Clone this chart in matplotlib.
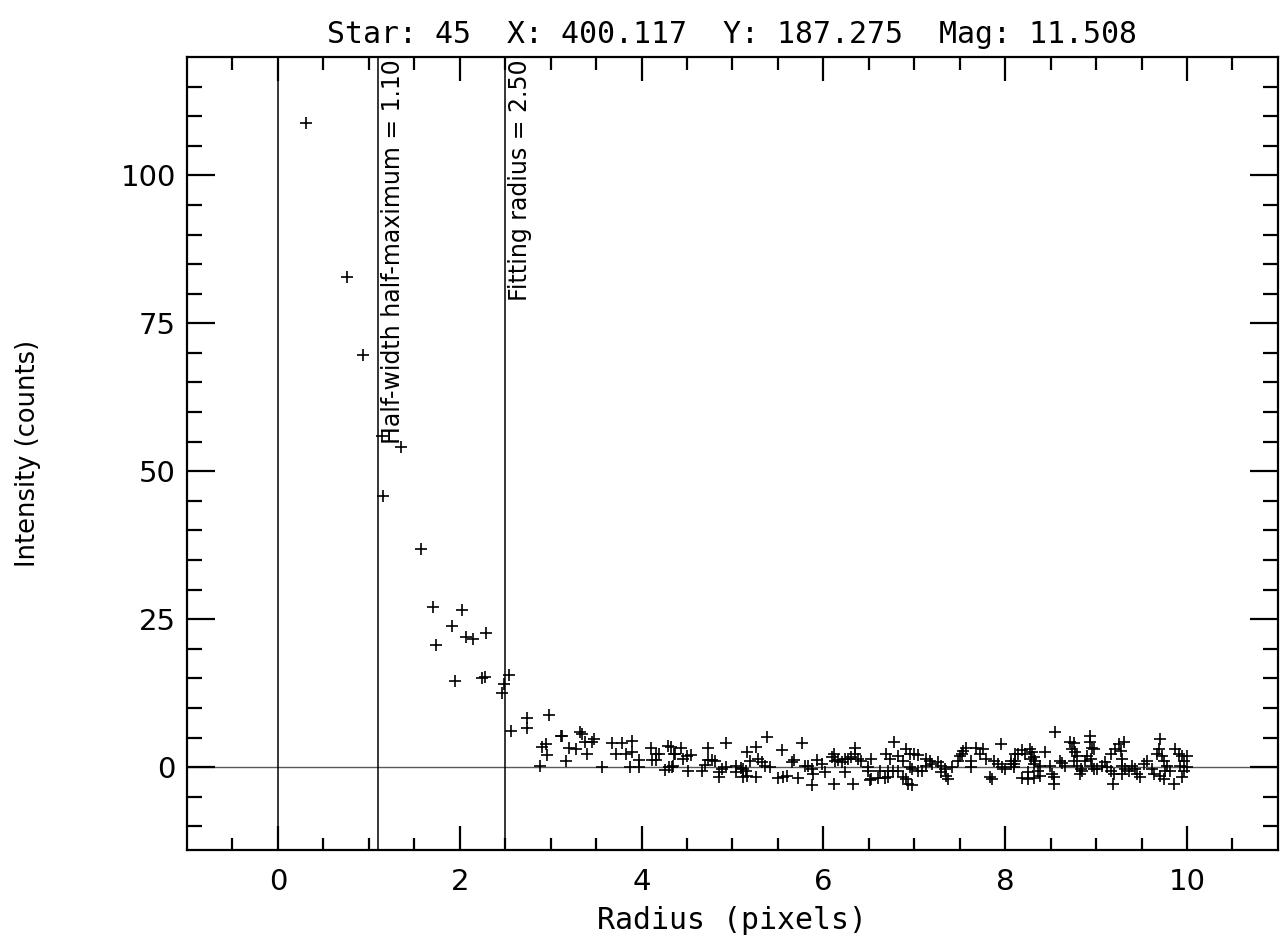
import numpy as np
import matplotlib
matplotlib.use("Agg")
import matplotlib.pyplot as plt

# star info
star_id = 45
star_x = 400.117
star_y = 187.275
star_mag = 11.508
hwhm = 1.10
fit_radius = 2.50

# radial profile: radius (pixels), intensity (counts)
r_core = [0.31, 0.76, 0.94, 1.15, 1.35, 1.16, 1.57, 1.71, 2.03, 1.92, 1.74,
          2.07, 2.15, 2.29, 1.95, 2.25, 2.28, 2.54, 2.49, 2.46]
i_core = [108.8, 82.8, 69.6, 56.0, 54.1, 45.9, 36.8, 27.0, 26.5, 23.8, 20.7,
          22.0, 21.6, 22.6, 14.5, 15.0, 15.3, 15.5, 14.0, 12.6]

r_wing = [2.56, 2.74, 2.74, 2.98, 2.88, 2.91, 2.95, 2.96, 3.11, 3.13, 3.17,
          3.20, 3.28, 3.32, 3.35, 3.38, 3.40, 3.48, 3.46, 3.57, 3.68, 3.79,
          3.72, 3.83, 3.90, 3.90, 3.97, 3.87, 3.97, 4.10, 4.16, 4.19, 4.16,
          4.11, 4.29, 4.36, 4.26, 4.30, 4.33,
          4.32, 4.43, 4.37, 4.35, 4.50, 4.54, 4.46, 4.51, 4.73, 4.73, 4.77,
          4.81, 4.70, 4.66, 4.85, 4.85, 4.93, 4.93, 4.88, 5.04, 5.09, 5.12,
          5.15, 5.12, 5.16, 5.04, 5.16, 5.19, 5.26, 5.28, 5.32, 5.26, 5.38,
          5.36, 5.41, 5.55, 5.50, 5.56, 5.60, 5.68, 5.66, 5.72, 5.77, 5.80,
          5.83, 5.87, 5.88, 5.89, 5.93, 5.98, 6.02, 6.09, 6.12, 6.13, 6.16,
          6.20, 6.12, 6.24,
          6.24, 6.35, 6.35, 6.30, 6.27, 6.38, 6.41, 6.33, 6.49, 6.49, 6.52,
          6.52, 6.51, 6.60, 6.68, 6.71, 6.62, 6.71, 6.77, 6.82, 6.69, 6.73,
          6.78, 6.82, 6.88, 6.88, 6.91, 6.93, 6.98, 6.91, 6.95, 7.00, 7.04,
          6.95, 6.98, 7.04, 7.09, 7.13, 7.17, 7.20, 7.13, 7.26, 7.29, 7.34,
          7.29, 7.37, 7.35, 7.42, 7.48, 7.50, 7.52, 7.54, 7.57, 7.62, 7.62,
          7.68, 7.72, 7.76, 7.79, 7.83, 7.86, 7.88, 7.95, 7.92, 7.97, 8.00,
          8.06, 8.10, 8.11,
          8.06, 8.10, 8.11, 8.14, 8.19, 8.22, 8.27, 8.29, 8.28, 8.32, 8.33,
          8.32, 8.38, 8.36, 8.25, 8.19, 8.25, 8.32, 8.38, 8.44, 8.49, 8.52,
          8.54, 8.54, 8.55, 8.60, 8.63, 8.66, 8.71, 8.76, 8.74, 8.77, 8.79,
          8.76, 8.79, 8.83, 8.85, 8.82, 8.88, 8.93, 8.93, 8.96, 8.98, 8.90,
          8.94, 8.96, 8.98, 9.01, 9.07, 9.10, 9.12, 9.16, 9.20, 9.19, 9.16,
          9.21, 9.25, 9.31, 9.27, 9.29, 9.29, 9.32, 9.29, 9.36, 9.40, 9.43,
          9.45, 9.48, 9.53, 9.56, 9.62, 9.64, 9.70, 9.69, 9.67, 9.73, 9.75,
          9.78, 9.76, 9.70, 9.75, 9.81, 9.86, 9.87, 9.91, 9.95, 9.97, 9.92,
          9.97, 10.00, 10.00, 9.95]
i_wing = [6.1, 8.3, 6.7, 8.8, 0.2, 3.4, 3.9, 2.0, 5.2, 5.2, 1.0,
          3.2, 3.0, 5.9, 5.6, 4.2, 2.2, 4.7, 4.2, 0.1, 4.0, 4.0,
          2.2, 2.2, 2.5, 4.4, 1.2, 0.1, 0.1, 3.2, 2.2, 2.2, 1.2,
          1.2, 3.5, 2.2, -0.4, 0.1, 0.1,
          3.4, 3.2, 2.2, 0.2, 1.9, 2.0, 1.3, -0.7, 3.2, 1.2, 1.2,
          1.0, 0.4, -0.7, -0.9, -1.7, 4.0, 0.0, -0.3, 0.2, -0.2, -0.3,
          -0.7, -1.7, -1.5, -0.8, 2.5, 1.0, 3.4, 1.3, 0.8, -1.7, 5.1,
          0.2, 0.0, 2.9, -1.9, -1.7, -1.5, 1.2, 0.8, -1.9, 4.0, 0.2,
          0.2, -0.3, -3.0, -1.2, 1.2, 0.5, -0.8, 1.7, 2.2, 1.0, 1.2,
          0.8, -2.9, 1.3,
          -0.8, 3.2, 2.2, 1.7, 1.3, 1.3, 1.0, -2.9, 0.0, -0.7, 1.3,
          -2.0, -2.2, -1.9, -1.9, -1.7, -0.7, -0.7, -0.7, -0.7, 2.2, 1.3,
          4.2, 1.9, 1.0, -1.7, -2.0, -2.9, -3.0, 3.0, 2.2, 2.2, 2.0,
          0.0, -0.3, -0.7, -0.7, 1.3, 1.0, 0.5, 0.2, 0.8, 0.2, -0.3,
          -0.8, -2.0, -1.5, 0.0, 1.0, 1.9, 2.2, 2.7, 3.2, 1.0, 0.0,
          3.2, 2.2, 3.0, 1.3, -1.7, -2.0, 1.0, 3.9, 0.5, 0.0, -0.3,
          1.0, 0.5, 2.2,
          0.5, 0.0, 1.0, 2.2, 2.9, 2.2, 3.0, 2.5, 1.3, 1.7, 1.0,
          0.5, 0.2, -0.7, -0.8, -1.9, -2.0, -1.9, -1.5, 2.5, 0.2, -1.2,
          -1.7, -2.9, 5.9, 1.0, 0.7, 0.2, 4.2, 4.0, 3.0, 2.5, 1.9,
          1.0, 0.2, -0.3, -0.7, -1.2, 1.0, 5.2, 4.2, 3.2, 3.0, 1.9,
          1.3, 0.2, -0.3, -0.3, 0.2, 0.8, 0.0, -0.7, -1.2, -2.9, 2.2,
          3.0, 3.9, 4.2, 2.7, 1.3, 0.2, -0.3, -1.2, -0.7, 0.2, -0.3,
          -1.2, -1.7, 0.5, 1.0, -0.3, -1.2, 4.7, 3.0, 2.2, 1.9, 1.0,
          0.2, -0.7, -1.5, -2.0, -0.7, -2.9, 3.0, 2.2, 1.9, 1.0, 0.2,
          -0.7, 0.0, 1.9, -1.7]

radius = np.array(r_core + r_wing)
intensity = np.array(i_core + i_wing)

narrow = ['Liberation Sans Narrow', 'DejaVu Sans']
mono = ['DejaVu Sans Mono']

plt.rcParams['axes.linewidth'] = 1.6
plt.rcParams['xtick.major.width'] = 1.6
plt.rcParams['xtick.minor.width'] = 1.6
plt.rcParams['ytick.major.width'] = 1.6
plt.rcParams['ytick.minor.width'] = 1.6

fig = plt.figure(figsize=(12.88, 9.43), dpi=100)
ax = fig.add_axes([0.1452, 0.0986, 0.847, 0.841])

ax.plot(radius, intensity, linestyle='none', marker='+', color='black',
        markersize=9, markeredgewidth=1.2)

ax.axhline(0, color='0.35', lw=1.0, zorder=1)
ax.axvline(0, color='black', lw=1.1, zorder=1)
ax.axvline(hwhm, color='black', lw=1.1, zorder=1)
ax.axvline(fit_radius, color='black', lw=1.1, zorder=1)

ax.annotate("Half-width half-maximum = %.2f" % hwhm, xy=(hwhm, 1),
            xycoords=('data', 'axes fraction'), xytext=(2, -2),
            textcoords='offset points', rotation=90, ha='left', va='top',
            family=narrow, fontsize=17)
ax.annotate("Fitting radius = %.2f" % fit_radius, xy=(fit_radius, 1),
            xycoords=('data', 'axes fraction'), xytext=(2, -2),
            textcoords='offset points', rotation=90, ha='left', va='top',
            family=narrow, fontsize=17)

ax.set_xlim(-1, 11)
ax.set_ylim(-14, 120)
ax.set_xticks([0, 2, 4, 6, 8, 10])
ax.set_xticks(np.arange(-0.5, 11, 0.5), minor=True)
ax.set_yticks([0, 25, 50, 75, 100])
ax.set_yticks(np.arange(-10, 120, 5), minor=True)

ax.tick_params(axis='both', which='both', direction='in', top=True, right=True)
ax.tick_params(axis='x', which='major', length=17, pad=13)
ax.tick_params(axis='x', which='minor', length=9)
ax.tick_params(axis='y', which='major', length=20, pad=8)
ax.tick_params(axis='y', which='minor', length=11)

for lab in ax.get_xticklabels():
    lab.set_family(narrow)
    lab.set_fontsize(21)
for lab in ax.get_yticklabels():
    lab.set_family('DejaVu Sans')
    lab.set_fontsize(21)

ax.set_xlabel("Radius (pixels)", family=mono, fontsize=21.5, labelpad=7)
ax.set_ylabel("Intensity (counts)", family=narrow, fontsize=18.5)
ax.yaxis.set_label_coords(-0.134, 0.5)

ax.set_title("Star: %d  X: %.3f  Y: %.3f  Mag: %.3f"
             % (star_id, star_x, star_y, star_mag),
             family=mono, fontsize=21.5, pad=10)

fig.savefig("out.png", dpi=100)
